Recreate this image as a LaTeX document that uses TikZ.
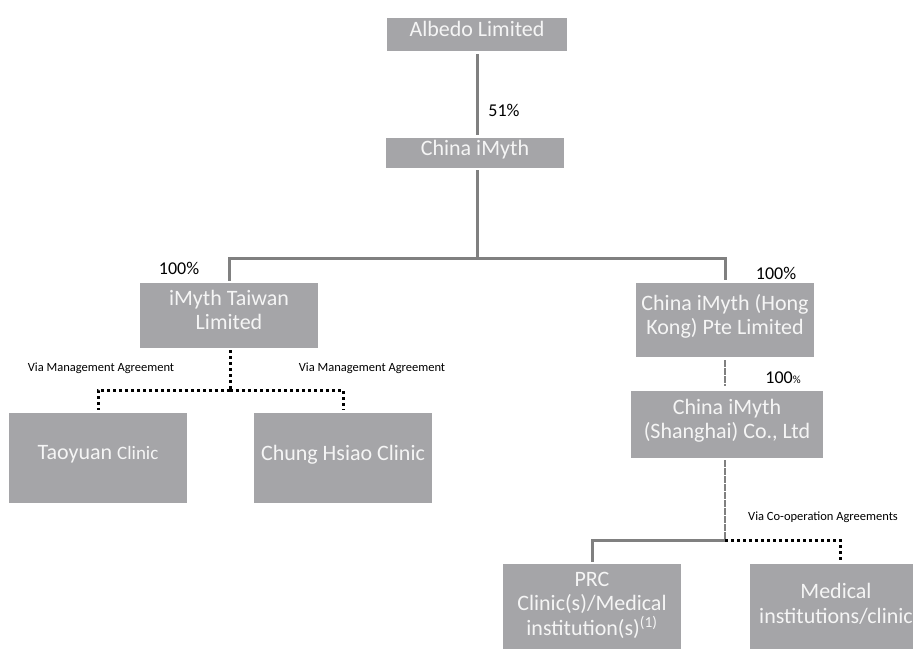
\documentclass[tikz,border=0pt]{standalone}
\usepackage{fontspec}
\setmainfont{Carlito}
\usetikzlibrary{calc}
\definecolor{boxgray}{HTML}{A5A5A8}
\definecolor{linegray}{HTML}{808080}
\definecolor{boxtext}{HTML}{F5F5F5}
\tikzset{
  entity/.style={rectangle, fill=boxgray, draw=none, text=boxtext, align=center,
    inner sep=0pt, text depth=11pt, font=\fontsize{22}{24.5}\selectfont},
  own/.style={draw=linegray, line width=3pt},
  ownthin/.style={draw=linegray, line width=2pt, dash pattern=on 7pt off 1pt},
  agree/.style={draw=black, line width=3pt, dash pattern=on 3pt off 3pt},
  pct/.style={font=\fontsize{18}{20}\selectfont, inner sep=1pt},
  via/.style={font=\fontsize{12.5}{14}\selectfont, inner sep=1pt},
}
\newcommand{\entitybox}[6]{\node[entity, minimum width=#4pt, minimum height=#5pt] (#1) at (#2,#3) {#6};}

\begin{document}
\begin{tikzpicture}[x=1pt, y=-1pt]
        \useasboundingbox (0,0) rectangle (913,648);
        \clip (0,0) rectangle (913,648);
        % top
        \entitybox{albedo}{477}{34.5}{180}{33}{Albedo Limited}
        \entitybox{imyth}{475}{153}{178}{30}{China iMyth}
        % level 2
        \entitybox{taiwan}{229}{315.5}{178}{65}{iMyth Taiwan\\Limited}
        \entitybox{hk}{725}{320}{178}{74}{China iMyth (Hong\\Kong) Pte Limited}
        \entitybox{shanghai}{727}{424.5}{192}{67}{China iMyth\\(Shanghai) Co., Ltd}
        % clinics
        \entitybox{taoyuan}{98}{458}{178}{90}{Taoyuan {\fontsize{19}{22}\selectfont Clinic}}
        \entitybox{chung}{343}{458}{178}{90}{Chung Hsiao Clinic}
        \entitybox{prc}{592}{609}{178}{90}{PRC\\Clinic(s)/Medical\\institution(s)\textsuperscript{(1)}}
        \entitybox{medical}{836}{609}{172}{90}{Medical\\institutions/clinic}
        % split points
        \coordinate (fork) at (477,258);
        \coordinate (split1) at (230,390);
        \coordinate (split2) at (725,540);
        % ownership lines
        \draw[own, shorten <=3pt, shorten >=3pt] (albedo.south) -- (albedo.south |- imyth.north);
        \draw[own, shorten <=2pt] (fork |- imyth.south) -- (fork);
        \draw[own, shorten <=2pt, shorten >=3pt] (taiwan.north) |- (fork) -| (hk.north);
        \draw[ownthin, shorten <=3pt, shorten >=5pt] (hk.south) -- (hk.south |- shanghai.north);
        \draw[ownthin, shorten <=2pt] (split2 |- shanghai.south) -- (split2);
        \draw[own, shorten >=2pt] (split2) -| (prc.north);
        % agreements
        \draw[agree, shorten <=2pt] (split1 |- taiwan.south) -- (split1);
        \draw[agree, shorten >=3pt] (split1) -| (taoyuan.north);
        \draw[agree, shorten >=3pt] (split1) -| (chung.north);
        \draw[agree, shorten >=2pt] (split2) -| (medical.north -| 840,0);
        % labels
        \node[pct] (p51) at (504,110) {51\%};
        \node[pct] (ptw) at (179,268) {100\%};
        \node[pct] (phk) at (776,273) {100\%};
        \node[pct] (psh) at (783,378) {100{\fontsize{11}{12}\selectfont\%}};
        \node[via] (via1) at (101,368) {Via Management Agreement};
        \node[via] (via2) at (372,368) {Via Management Agreement};
        \node[via] (via3) at (823,517) {Via Co-operation Agreements};
\end{tikzpicture}
\end{document}
